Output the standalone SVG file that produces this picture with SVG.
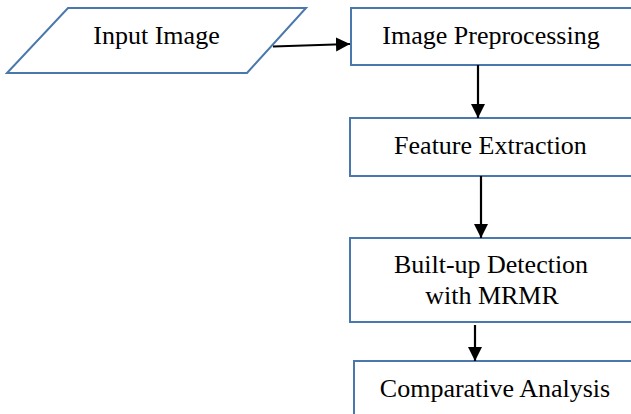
<svg xmlns="http://www.w3.org/2000/svg" width="631" height="414" viewBox="0 0 631 414">
<style>
.shape{fill:#ffffff;stroke:#4a78ad;stroke-width:2}
.lbl{font-family:"Liberation Serif","Times New Roman",serif;font-size:26px;fill:#000;text-anchor:middle}
.conn{stroke:#000;stroke-width:2.2;fill:none;marker-end:url(#ah)}
</style>
<defs>
<marker id="ah" markerUnits="userSpaceOnUse" markerWidth="15" markerHeight="15" refX="14" refY="7" orient="auto">
<path d="M0,0 L14,7 L0,14 Z" fill="#000"/>
</marker>
</defs>
<rect width="631" height="414" fill="#ffffff"/>
<g id="input">
<polygon class="shape" points="68,8 306,8 247,73 7,73"/>
<text class="lbl" x="156.5" y="44">Input Image</text>
</g>
<g id="preprocess">
<rect class="shape" x="351" y="8" width="285" height="57"/>
<text class="lbl" x="491" y="44">Image Preprocessing</text>
</g>
<g id="feature">
<rect class="shape" x="350" y="118" width="285" height="58"/>
<text class="lbl" x="490.5" y="154">Feature Extraction</text>
</g>
<g id="builtup">
<rect class="shape" x="350" y="238" width="285" height="84"/>
<text class="lbl" x="491" y="273">Built-up Detection</text>
<text class="lbl" x="492" y="304">with MRMR</text>
</g>
<g id="comparative">
<rect class="shape" x="354" y="361" width="285" height="60"/>
<text class="lbl" x="495" y="397">Comparative Analysis</text>
</g>
<g id="connectors">
<line class="conn" x1="273" y1="46.5" x2="350" y2="44"/>
<line class="conn" x1="478" y1="65" x2="478" y2="118"/>
<line class="conn" x1="481" y1="176" x2="481" y2="238"/>
<line class="conn" x1="475" y1="325" x2="475" y2="361"/>
</g>
</svg>
